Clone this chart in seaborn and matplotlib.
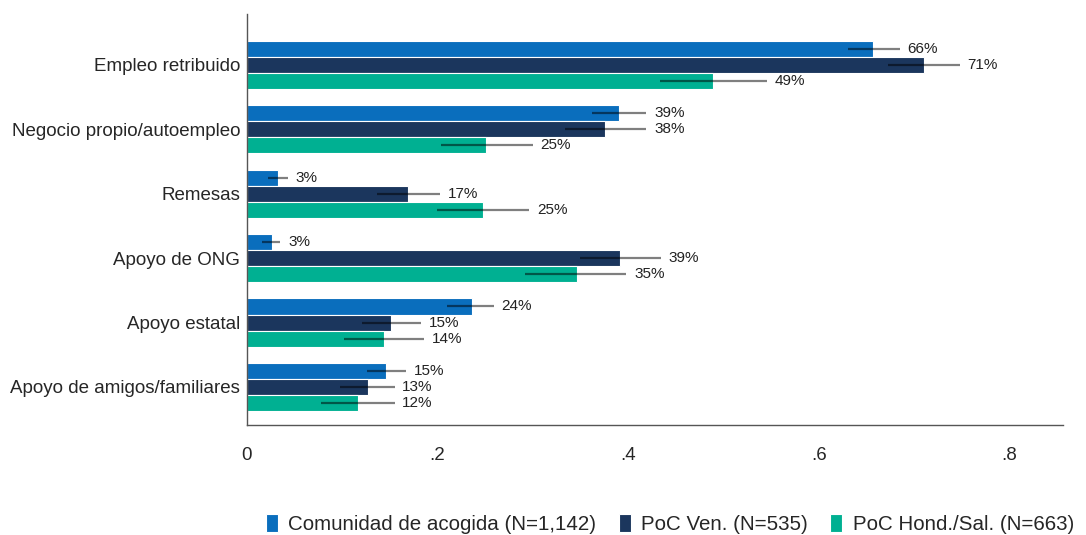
import pandas as pd
import matplotlib.pyplot as plt
import seaborn as sns
import numpy as np

categories = ["Empleo retribuido", "Negocio propio/autoempleo", "Remesas",
              "Apoyo de ONG", "Apoyo estatal", "Apoyo de amigos/familiares"]
groups = ["Comunidad de acogida (N=1,142)", "PoC Ven. (N=535)", "PoC Hond./Sal. (N=663)"]

# share per group, same order as categories
host = [0.657, 0.390, 0.0325, 0.026, 0.236, 0.146]
ven = [0.710, 0.376, 0.169, 0.391, 0.151, 0.127]
hond = [0.489, 0.251, 0.248, 0.346, 0.144, 0.116]

# 95% CI bounds
host_lo = [0.631, 0.362, 0.022, 0.016, 0.210, 0.126]
host_hi = [0.685, 0.419, 0.043, 0.035, 0.259, 0.167]
ven_lo = [0.672, 0.334, 0.136, 0.349, 0.121, 0.098]
ven_hi = [0.748, 0.419, 0.203, 0.434, 0.183, 0.155]
hond_lo = [0.433, 0.204, 0.199, 0.292, 0.102, 0.078]
hond_hi = [0.545, 0.300, 0.296, 0.398, 0.186, 0.155]

xticks = [0, 0.2, 0.4, 0.6, 0.8]
xtick_labels = ["0", ".2", ".4", ".6", ".8"]
colors = ["#0A6EBD", "#1B365D", "#00B092"]

df = pd.DataFrame({
    "cat": categories * 3,
    "grp": np.repeat(groups, len(categories)),
    "val": host + ven + hond,
})
lows = [host_lo, ven_lo, hond_lo]
highs = [host_hi, ven_hi, hond_hi]

sns.set_style("white")
plt.rcParams["font.family"] = ["Liberation Sans", "DejaVu Sans"]

fig = plt.figure(figsize=(10.86, 5.35), dpi=100)
ax = fig.add_axes([0.2274, 0.2056, 0.7514, 0.7682])

sns.barplot(data=df, y="cat", x="val", hue="grp", order=categories, hue_order=groups,
            palette=colors, orient="h", width=0.75, errorbar=None,
            edgecolor="white", linewidth=0.8, saturation=1, ax=ax)

for i, cont in enumerate(ax.containers):
    for j, bar in enumerate(cont):
        yc = bar.get_y() + bar.get_height() / 2
        lo, hi = lows[i][j], highs[i][j]
        ax.plot([lo, hi], [yc, yc], color="black", alpha=0.5, lw=1.6, solid_capstyle="butt")
        ax.annotate(f"{bar.get_width():.0%}", (hi, yc), xytext=(5.5, 0),
                    textcoords="offset points", va="center", ha="left",
                    fontsize=11, color="#222222")

ax.set_xlim(0, 0.856)
ax.set_ylim(5.59, -0.79)
ax.set_xticks(xticks)
ax.set_xticklabels(xtick_labels)
ax.tick_params(axis="x", length=0, pad=16, labelsize=13.5)
ax.tick_params(axis="y", length=0, pad=5, labelsize=13.5)
ax.set_xlabel("")
ax.set_ylabel("")
for s in ["top", "right"]:
    ax.spines[s].set_visible(False)
for s in ["left", "bottom"]:
    ax.spines[s].set_color("#555555")
    ax.spines[s].set_linewidth(1)

handles, labels = ax.get_legend_handles_labels()
ax.get_legend().remove()
fig.legend(handles, labels, loc="lower left", bbox_to_anchor=(0.228, -0.033), ncol=3,
           frameon=False, fontsize=14.8, handlelength=0.58, handleheight=1.0,
           handletextpad=0.5, columnspacing=1.1)

plt.savefig("out.png", dpi=100)
